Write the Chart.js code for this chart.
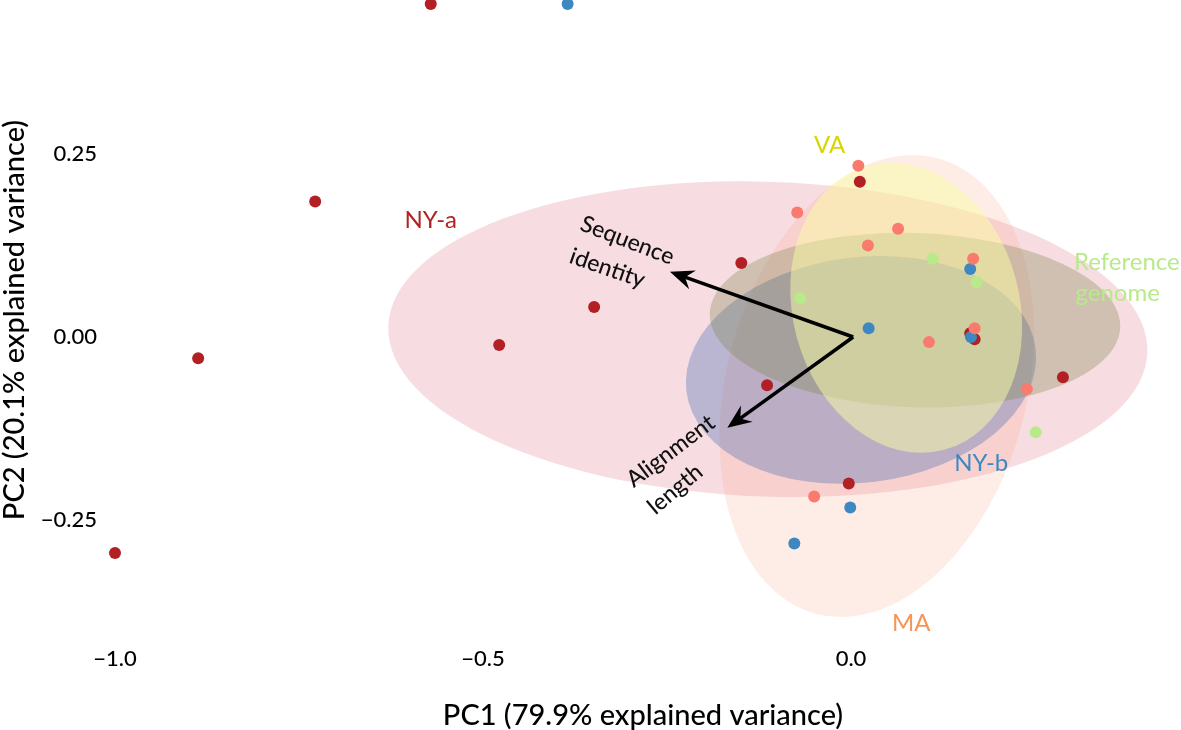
<!DOCTYPE html>
<html>
<head>
<meta charset="utf-8">
<script src="https://cdn.jsdelivr.net/npm/chart.js@4.4.0/dist/chart.umd.min.js"></script>
<style>
body { margin: 0; background: #fff; }
#wrap { width: 1181px; height: 730px; }
</style>
</head>
<body>
<div id="wrap"><canvas id="pcaChart" width="1181" height="730"></canvas></div>
<script>
// PCA scores
const maPC1 = [0.010, -0.073, 0.064, 0.023, 0.166, 0.106, 0.239, -0.050, 0.168]
const maPC2 = [0.234, 0.170, 0.148, 0.125, 0.107, -0.007, -0.071, -0.218, 0.012]
const nybPC1 = [-0.385, 0.162, 0.024, 0.163, -0.001, -0.077]
const nybPC2 = [0.455, 0.093, 0.012, 0.000, -0.233, -0.282]
const nyaPC1 = [-0.571, -0.728, -0.887, -1.000, -0.349, -0.478, -0.149, -0.114, 0.012, -0.003, 0.162, 0.168, 0.288]
const nyaPC2 = [0.455, 0.185, -0.029, -0.295, 0.041, -0.011, 0.101, -0.066, 0.212, -0.200, 0.005, -0.003, -0.055]
const refPC1 = [0.111, 0.171, -0.069, 0.251]
const refPC2 = [0.107, 0.075, 0.053, -0.130]

// group ellipses (centre, semi axes in PC units, angle in degrees)
const ellGroups = ["NY-a", "MA", "NY-b", "Reference genome", "VA"]
const ellCX = [-0.113, 0.035, 0.0136, 0.087, 0.075]
const ellCY = [-0.003, -0.067, -0.045, 0.023, 0.040]
const ellRX = [0.516, 0.204, 0.239, 0.279, 0.154]
const ellRY = [0.215, 0.322, 0.154, 0.119, 0.201]
const ellAngle = [-2, -15, 7, -2, 15]
const ellFill = ["rgba(220,100,125,0.22)", "rgba(248,160,130,0.19)", "rgba(71,105,174,0.35)", "rgba(125,135,80,0.33)", "rgba(249,253,163,0.5)"]

// loadings
const loadNames = [["Sequence", "identity"], ["Alignment", "length"]]
const loadPC1 = [-0.246, -0.168]
const loadPC2 = [0.089, -0.124]
const loadOrigin = [0.003, 0.0]

const xTicks = [-1.0, -0.5, 0.0]
const yTicks = [-0.25, 0.0, 0.25]

const fontName = "Lato"

function fmt(v, d) {
    let s = Math.abs(v).toFixed(d)
    return v < 0 ? "\u2212" + s : s
}

const ellipsePlugin = {
    id: "ellipses",
    beforeDatasetsDraw(chart) {
        const ctx = chart.ctx
        const x = chart.scales.x
        const y = chart.scales.y
        const pxX = Math.abs(x.getPixelForValue(1) - x.getPixelForValue(0))
        const pxY = Math.abs(y.getPixelForValue(1) - y.getPixelForValue(0))
        ctx.save()
        for (let i = 0; i < ellGroups.length; i++) {
            ctx.beginPath()
            ctx.ellipse(x.getPixelForValue(ellCX[i]), y.getPixelForValue(ellCY[i]),
                ellRX[i] * pxX, ellRY[i] * pxY, -ellAngle[i] * Math.PI / 180, 0, Math.PI * 2)
            ctx.fillStyle = ellFill[i]
            ctx.fill()
        }
        ctx.restore()
    }
}

function drawArrow(ctx, x0, y0, x1, y1) {
    const ang = Math.atan2(y1 - y0, x1 - x0)
    const len = 24, half = 10, notch = 16
    ctx.beginPath()
    ctx.moveTo(x0, y0)
    ctx.lineTo(x1 - Math.cos(ang) * notch, y1 - Math.sin(ang) * notch)
    ctx.stroke()
    ctx.beginPath()
    ctx.moveTo(x1, y1)
    ctx.lineTo(x1 - Math.cos(ang) * len + Math.sin(ang) * half, y1 - Math.sin(ang) * len - Math.cos(ang) * half)
    ctx.lineTo(x1 - Math.cos(ang) * notch, y1 - Math.sin(ang) * notch)
    ctx.lineTo(x1 - Math.cos(ang) * len - Math.sin(ang) * half, y1 - Math.sin(ang) * len + Math.cos(ang) * half)
    ctx.closePath()
    ctx.fill()
}

function rotatedText(ctx, text, px, py, deg) {
    ctx.save()
    ctx.translate(px, py)
    ctx.rotate(deg * Math.PI / 180)
    ctx.fillText(text, 0, 0)
    ctx.restore()
}

const annotationPlugin = {
    id: "annotations",
    afterDatasetsDraw(chart) {
        const ctx = chart.ctx
        const x = chart.scales.x
        const y = chart.scales.y
        ctx.save()
        ctx.strokeStyle = "#000"
        ctx.fillStyle = "#000"
        ctx.lineWidth = 3.5
        const ox = x.getPixelForValue(loadOrigin[0])
        const oy = y.getPixelForValue(loadOrigin[1])
        for (let i = 0; i < loadPC1.length; i++) {
            drawArrow(ctx, ox, oy, x.getPixelForValue(loadPC1[i]), y.getPixelForValue(loadPC2[i]))
        }

        // loading labels, parallel to their arrows
        ctx.font = "500 23px " + fontName
        ctx.fillStyle = "#111"
        ctx.textAlign = "center"
        ctx.textBaseline = "middle"
        rotatedText(ctx, loadNames[0][0], x.getPixelForValue(-0.304), y.getPixelForValue(0.132), 21)
        rotatedText(ctx, loadNames[0][1], x.getPixelForValue(-0.331), y.getPixelForValue(0.094), 19)
        rotatedText(ctx, loadNames[1][0], x.getPixelForValue(-0.245), y.getPixelForValue(-0.156), -37)
        rotatedText(ctx, loadNames[1][1], x.getPixelForValue(-0.239), y.getPixelForValue(-0.208), -40)

        // group labels
        ctx.font = "24px " + fontName
        ctx.fillStyle = "#B22222"
        ctx.fillText("NY-a", x.getPixelForValue(-0.571), y.getPixelForValue(0.160))
        ctx.fillStyle = "#D6D600"
        ctx.fillText("VA", x.getPixelForValue(-0.029), y.getPixelForValue(0.262))
        ctx.fillStyle = "#3E88C2"
        ctx.fillText("NY-b", x.getPixelForValue(0.177), y.getPixelForValue(-0.172))
        ctx.fillStyle = "#F79456"
        ctx.fillText("MA", x.getPixelForValue(0.082), y.getPixelForValue(-0.391))
        ctx.fillStyle = "#B8EA8A"
        ctx.textAlign = "left"
        ctx.fillText("Reference", x.getPixelForValue(0.303), y.getPixelForValue(0.102))
        ctx.fillText("genome", x.getPixelForValue(0.305), y.getPixelForValue(0.060))
        ctx.restore()
    }
}

function pts(xs, ys) {
    return xs.map((v, i) => ({ x: v, y: ys[i] }))
}

const scatterData = {
    datasets: [
        { label: "Reference genome", data: pts(refPC1, refPC2), backgroundColor: "#B8EA8A" },
        { label: "MA", data: pts(maPC1, maPC2), backgroundColor: "#F87B6E" },
        { label: "NY-b", data: pts(nybPC1, nybPC2), backgroundColor: "#3E88C2" },
        { label: "NY-a", data: pts(nyaPC1, nyaPC2), backgroundColor: "#B22025" }
    ]
}
scatterData.datasets.forEach(d => {
    d.pointRadius = 6
    d.pointBorderWidth = 0
    d.borderWidth = 0
    d.clip = false
})

const scatterConfig = {
    type: "scatter",
    data: scatterData,
    options: {
        responsive: false,
        animation: false,
        layout: { padding: 0, autoPadding: false },
        plugins: {
            legend: { display: false },
            tooltip: { enabled: false }
        },
        scales: {
            x: {
                min: -1.01359,
                max: 0.4484,
                grid: { display: false, drawTicks: false },
                border: { display: false },
                afterBuildTicks: s => { s.ticks = xTicks.map(v => ({ value: v })) },
                afterFit: s => { s.height = 90; s.paddingLeft = 0; s.paddingRight = 0 },
                ticks: {
                    color: "#000",
                    padding: 6,
                    maxRotation: 0,
                    font: { family: fontName, size: 22, weight: 500 },
                    callback: v => fmt(v, 1)
                },
                title: {
                    display: true,
                    text: "PC1 (79.9% explained variance)",
                    color: "#000",
                    padding: 0,
                    font: { family: fontName, size: 29, lineHeight: 1, weight: 500 }
                }
            },
            y: {
                min: -0.41393,
                max: 0.46038,
                grid: { display: false, drawTicks: false },
                border: { display: false },
                afterBuildTicks: s => { s.ticks = yTicks.map(v => ({ value: v })) },
                afterFit: s => { s.width = 105; s.paddingTop = 0; s.paddingBottom = 0 },
                ticks: {
                    color: "#000",
                    padding: 8,
                    font: { family: fontName, size: 22, weight: 500 },
                    callback: v => fmt(v, 2)
                },
                title: {
                    display: true,
                    text: "PC2 (20.1% explained variance)",
                    color: "#000",
                    padding: { top: 0, bottom: 0 },
                    font: { family: fontName, size: 29, lineHeight: 1, weight: 500 }
                }
            }
        }
    },
    plugins: [ellipsePlugin, annotationPlugin]
}

const pcaChart = new Chart(document.getElementById("pcaChart"), scatterConfig)
</script>
</body>
</html>
